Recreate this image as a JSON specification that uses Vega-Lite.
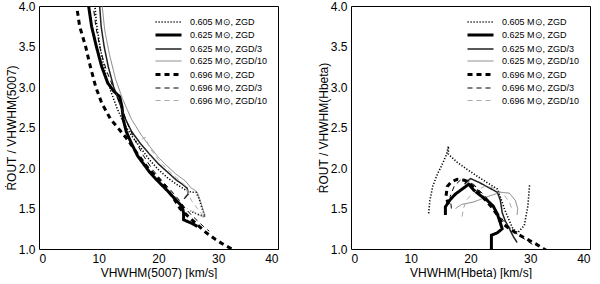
{
"$schema": "https://vega.github.io/schema/vega-lite/v6.json",
"padding": {"left": 4, "top": -1, "right": 3, "bottom": 0},
"config": {
 "view": {"stroke": "black", "strokeWidth": 1},
 "font": "Liberation Sans",
 "axis": {"labelFont": "Liberation Sans", "labelFontSize": 12, "titleFont": "Liberation Sans", "titleFontSize": 12, "titleFontWeight": "normal", "labelColor": "black", "titleColor": "black", "grid": false, "domain": false, "ticks": false},
 "legend": {"orient": "top-right", "offset": 10, "padding": 0, "labelFont": "Liberation Sans", "labelFontSize": 9, "labelColor": "black", "symbolType": "M-2.6,0H2.6", "symbolSize": 100, "labelOffset": 15, "rowPadding": 1.5, "title": null, "symbolFillColor": "transparent"}
},
"datasets": {
 "left": [
  {"s":"0.605 M⊙, ZGD","i":0,"v":9.3,"r":4.05},{"s":"0.605 M⊙, ZGD","i":1,"v":9.6,"r":3.8},{"s":"0.605 M⊙, ZGD","i":2,"v":10.2,"r":3.5},{"s":"0.605 M⊙, ZGD","i":3,"v":11,"r":3.2},{"s":"0.605 M⊙, ZGD","i":4,"v":12,"r":2.95},{"s":"0.605 M⊙, ZGD","i":5,"v":13,"r":2.75},{"s":"0.605 M⊙, ZGD","i":6,"v":14.2,"r":2.55},{"s":"0.605 M⊙, ZGD","i":7,"v":15.5,"r":2.4},{"s":"0.605 M⊙, ZGD","i":8,"v":17,"r":2.25},{"s":"0.605 M⊙, ZGD","i":9,"v":18.5,"r":2.1},{"s":"0.605 M⊙, ZGD","i":10,"v":20,"r":1.98},{"s":"0.605 M⊙, ZGD","i":11,"v":21.5,"r":1.88},{"s":"0.605 M⊙, ZGD","i":12,"v":23,"r":1.8},{"s":"0.605 M⊙, ZGD","i":13,"v":24.5,"r":1.73},{"s":"0.605 M⊙, ZGD","i":14,"v":25.5,"r":1.7},{"s":"0.605 M⊙, ZGD","i":15,"v":26.3,"r":1.7},{"s":"0.605 M⊙, ZGD","i":16,"v":26.8,"r":1.62},{"s":"0.605 M⊙, ZGD","i":17,"v":27.3,"r":1.5},{"s":"0.605 M⊙, ZGD","i":18,"v":27.8,"r":1.4},{"s":"0.605 M⊙, ZGD","i":19,"v":26.5,"r":1.43},{"s":"0.605 M⊙, ZGD","i":20,"v":25.3,"r":1.47},
  {"s":"0.625 M⊙, ZGD","i":0,"v":8.2,"r":4.05},{"s":"0.625 M⊙, ZGD","i":1,"v":8.8,"r":3.75},{"s":"0.625 M⊙, ZGD","i":2,"v":9.6,"r":3.5},{"s":"0.625 M⊙, ZGD","i":3,"v":10.5,"r":3.25},{"s":"0.625 M⊙, ZGD","i":4,"v":11.5,"r":3.05},{"s":"0.625 M⊙, ZGD","i":5,"v":12.5,"r":2.95},{"s":"0.625 M⊙, ZGD","i":6,"v":13.5,"r":2.88},{"s":"0.625 M⊙, ZGD","i":7,"v":13.9,"r":2.75},{"s":"0.625 M⊙, ZGD","i":8,"v":14.1,"r":2.6},{"s":"0.625 M⊙, ZGD","i":9,"v":14.6,"r":2.45},{"s":"0.625 M⊙, ZGD","i":10,"v":15.5,"r":2.3},{"s":"0.625 M⊙, ZGD","i":11,"v":16.5,"r":2.15},{"s":"0.625 M⊙, ZGD","i":12,"v":17.5,"r":2.05},{"s":"0.625 M⊙, ZGD","i":13,"v":18.5,"r":1.95},{"s":"0.625 M⊙, ZGD","i":14,"v":20,"r":1.83},{"s":"0.625 M⊙, ZGD","i":15,"v":21.5,"r":1.72},{"s":"0.625 M⊙, ZGD","i":16,"v":23,"r":1.6},{"s":"0.625 M⊙, ZGD","i":17,"v":24,"r":1.52},{"s":"0.625 M⊙, ZGD","i":18,"v":24.2,"r":1.44},{"s":"0.625 M⊙, ZGD","i":19,"v":24.2,"r":1.36},{"s":"0.625 M⊙, ZGD","i":20,"v":25.5,"r":1.32},{"s":"0.625 M⊙, ZGD","i":21,"v":26.5,"r":1.28},
  {"s":"0.625 M⊙, ZGD/3","i":0,"v":10.1,"r":4.05},{"s":"0.625 M⊙, ZGD/3","i":1,"v":10.4,"r":3.75},{"s":"0.625 M⊙, ZGD/3","i":2,"v":10.9,"r":3.5},{"s":"0.625 M⊙, ZGD/3","i":3,"v":11.6,"r":3.25},{"s":"0.625 M⊙, ZGD/3","i":4,"v":12.5,"r":3.0},{"s":"0.625 M⊙, ZGD/3","i":5,"v":13.5,"r":2.8},{"s":"0.625 M⊙, ZGD/3","i":6,"v":14.5,"r":2.6},{"s":"0.625 M⊙, ZGD/3","i":7,"v":15.5,"r":2.45},{"s":"0.625 M⊙, ZGD/3","i":8,"v":17,"r":2.3},{"s":"0.625 M⊙, ZGD/3","i":9,"v":18.5,"r":2.17},{"s":"0.625 M⊙, ZGD/3","i":10,"v":20,"r":2.05},{"s":"0.625 M⊙, ZGD/3","i":11,"v":21.5,"r":1.95},{"s":"0.625 M⊙, ZGD/3","i":12,"v":23,"r":1.85},{"s":"0.625 M⊙, ZGD/3","i":13,"v":24,"r":1.8},{"s":"0.625 M⊙, ZGD/3","i":14,"v":24.8,"r":1.75},{"s":"0.625 M⊙, ZGD/3","i":15,"v":25,"r":1.68},{"s":"0.625 M⊙, ZGD/3","i":16,"v":24.3,"r":1.62},
  {"s":"0.625 M⊙, ZGD/10","i":0,"v":10.5,"r":4.05},{"s":"0.625 M⊙, ZGD/10","i":1,"v":11,"r":3.7},{"s":"0.625 M⊙, ZGD/10","i":2,"v":11.8,"r":3.4},{"s":"0.625 M⊙, ZGD/10","i":3,"v":12.8,"r":3.1},{"s":"0.625 M⊙, ZGD/10","i":4,"v":14,"r":2.85},{"s":"0.625 M⊙, ZGD/10","i":5,"v":15.5,"r":2.6},{"s":"0.625 M⊙, ZGD/10","i":6,"v":17,"r":2.42},{"s":"0.625 M⊙, ZGD/10","i":7,"v":18.5,"r":2.27},{"s":"0.625 M⊙, ZGD/10","i":8,"v":20,"r":2.13},{"s":"0.625 M⊙, ZGD/10","i":9,"v":21.5,"r":2.02},{"s":"0.625 M⊙, ZGD/10","i":10,"v":23,"r":1.92},{"s":"0.625 M⊙, ZGD/10","i":11,"v":24.5,"r":1.84},{"s":"0.625 M⊙, ZGD/10","i":12,"v":25.5,"r":1.75},{"s":"0.625 M⊙, ZGD/10","i":13,"v":26,"r":1.73},{"s":"0.625 M⊙, ZGD/10","i":14,"v":26.5,"r":1.7},{"s":"0.625 M⊙, ZGD/10","i":15,"v":27.2,"r":1.55},{"s":"0.625 M⊙, ZGD/10","i":16,"v":27.8,"r":1.4},
  {"s":"0.696 M⊙, ZGD","i":0,"v":6.2,"r":4.05},{"s":"0.696 M⊙, ZGD","i":1,"v":6.8,"r":3.75},{"s":"0.696 M⊙, ZGD","i":2,"v":7.8,"r":3.5},{"s":"0.696 M⊙, ZGD","i":3,"v":8.6,"r":3.25},{"s":"0.696 M⊙, ZGD","i":4,"v":9.5,"r":3.0},{"s":"0.696 M⊙, ZGD","i":5,"v":10.5,"r":2.8},{"s":"0.696 M⊙, ZGD","i":6,"v":12,"r":2.6},{"s":"0.696 M⊙, ZGD","i":7,"v":13.5,"r":2.47},{"s":"0.696 M⊙, ZGD","i":8,"v":14.5,"r":2.38},{"s":"0.696 M⊙, ZGD","i":9,"v":15.5,"r":2.28},{"s":"0.696 M⊙, ZGD","i":10,"v":16.5,"r":2.17},{"s":"0.696 M⊙, ZGD","i":11,"v":18,"r":2.02},{"s":"0.696 M⊙, ZGD","i":12,"v":19.5,"r":1.9},{"s":"0.696 M⊙, ZGD","i":13,"v":21,"r":1.78},{"s":"0.696 M⊙, ZGD","i":14,"v":22.5,"r":1.63},{"s":"0.696 M⊙, ZGD","i":15,"v":23.6,"r":1.5},{"s":"0.696 M⊙, ZGD","i":16,"v":25,"r":1.4},{"s":"0.696 M⊙, ZGD","i":17,"v":26.5,"r":1.3},{"s":"0.696 M⊙, ZGD","i":18,"v":28,"r":1.2},{"s":"0.696 M⊙, ZGD","i":19,"v":29.5,"r":1.12},{"s":"0.696 M⊙, ZGD","i":20,"v":31,"r":1.05},{"s":"0.696 M⊙, ZGD","i":21,"v":32.3,"r":1.0},{"s":"0.696 M⊙, ZGD","i":22,"v":33,"r":0.97},
  {"s":"0.696 M⊙, ZGD/3","i":0,"v":9.0,"r":4.05},{"s":"0.696 M⊙, ZGD/3","i":1,"v":9.5,"r":3.75},{"s":"0.696 M⊙, ZGD/3","i":2,"v":10.3,"r":3.45},{"s":"0.696 M⊙, ZGD/3","i":3,"v":11.3,"r":3.2},{"s":"0.696 M⊙, ZGD/3","i":4,"v":12.4,"r":3.0},{"s":"0.696 M⊙, ZGD/3","i":5,"v":13.5,"r":2.8},{"s":"0.696 M⊙, ZGD/3","i":6,"v":14.8,"r":2.55},{"s":"0.696 M⊙, ZGD/3","i":7,"v":16,"r":2.35},{"s":"0.696 M⊙, ZGD/3","i":8,"v":17.5,"r":2.15},{"s":"0.696 M⊙, ZGD/3","i":9,"v":19,"r":1.98},{"s":"0.696 M⊙, ZGD/3","i":10,"v":20.5,"r":1.85},{"s":"0.696 M⊙, ZGD/3","i":11,"v":22,"r":1.73},{"s":"0.696 M⊙, ZGD/3","i":12,"v":23.5,"r":1.6},{"s":"0.696 M⊙, ZGD/3","i":13,"v":24.5,"r":1.5},{"s":"0.696 M⊙, ZGD/3","i":14,"v":25.5,"r":1.42},{"s":"0.696 M⊙, ZGD/3","i":15,"v":26.5,"r":1.35},{"s":"0.696 M⊙, ZGD/3","i":16,"v":27.5,"r":1.28},{"s":"0.696 M⊙, ZGD/3","i":17,"v":28.5,"r":1.22},
  {"s":"0.696 M⊙, ZGD/10","i":0,"v":17.2,"r":2.35},{"s":"0.696 M⊙, ZGD/10","i":1,"v":17.8,"r":2.38},{"s":"0.696 M⊙, ZGD/10","i":2,"v":18.5,"r":2.25},{"s":"0.696 M⊙, ZGD/10","i":3,"v":20,"r":2.1},{"s":"0.696 M⊙, ZGD/10","i":4,"v":21.5,"r":1.98},{"s":"0.696 M⊙, ZGD/10","i":5,"v":23,"r":1.88},{"s":"0.696 M⊙, ZGD/10","i":6,"v":24.5,"r":1.78},{"s":"0.696 M⊙, ZGD/10","i":7,"v":25.5,"r":1.6},{"s":"0.696 M⊙, ZGD/10","i":8,"v":26.5,"r":1.5},{"s":"0.696 M⊙, ZGD/10","i":9,"v":27.8,"r":1.38},{"s":"0.696 M⊙, ZGD/10","i":10,"v":26,"r":1.45},{"s":"0.696 M⊙, ZGD/10","i":11,"v":24.8,"r":1.5}
 ],
 "right": [
  {"s":"0.605 M⊙, ZGD","i":0,"v":13.0,"r":1.44},{"s":"0.605 M⊙, ZGD","i":1,"v":13.2,"r":1.6},{"s":"0.605 M⊙, ZGD","i":2,"v":13.7,"r":1.78},{"s":"0.605 M⊙, ZGD","i":3,"v":14.5,"r":1.93},{"s":"0.605 M⊙, ZGD","i":4,"v":15.3,"r":2.05},{"s":"0.605 M⊙, ZGD","i":5,"v":16.0,"r":2.17},{"s":"0.605 M⊙, ZGD","i":6,"v":16.3,"r":2.27},{"s":"0.605 M⊙, ZGD","i":7,"v":16.3,"r":2.17},{"s":"0.605 M⊙, ZGD","i":8,"v":17.8,"r":2.07},{"s":"0.605 M⊙, ZGD","i":9,"v":19.5,"r":1.98},{"s":"0.605 M⊙, ZGD","i":10,"v":21.5,"r":1.88},{"s":"0.605 M⊙, ZGD","i":11,"v":23.2,"r":1.8},{"s":"0.605 M⊙, ZGD","i":12,"v":24.5,"r":1.74},{"s":"0.605 M⊙, ZGD","i":13,"v":25.2,"r":1.6},{"s":"0.605 M⊙, ZGD","i":14,"v":25.7,"r":1.49},{"s":"0.605 M⊙, ZGD","i":15,"v":26.5,"r":1.35},{"s":"0.605 M⊙, ZGD","i":16,"v":27.1,"r":1.25},{"s":"0.605 M⊙, ZGD","i":17,"v":27.9,"r":1.2},{"s":"0.605 M⊙, ZGD","i":18,"v":29.0,"r":1.29},{"s":"0.605 M⊙, ZGD","i":19,"v":29.6,"r":1.53},{"s":"0.605 M⊙, ZGD","i":20,"v":29.9,"r":1.8},
  {"s":"0.625 M⊙, ZGD","i":0,"v":15.8,"r":1.42},{"s":"0.625 M⊙, ZGD","i":1,"v":15.8,"r":1.52},{"s":"0.625 M⊙, ZGD","i":2,"v":16.5,"r":1.6},{"s":"0.625 M⊙, ZGD","i":3,"v":17.5,"r":1.68},{"s":"0.625 M⊙, ZGD","i":4,"v":18.8,"r":1.75},{"s":"0.625 M⊙, ZGD","i":5,"v":19.7,"r":1.8},{"s":"0.625 M⊙, ZGD","i":6,"v":20.5,"r":1.73},{"s":"0.625 M⊙, ZGD","i":7,"v":21.5,"r":1.67},{"s":"0.625 M⊙, ZGD","i":8,"v":22.8,"r":1.6},{"s":"0.625 M⊙, ZGD","i":9,"v":23.8,"r":1.53},{"s":"0.625 M⊙, ZGD","i":10,"v":24.5,"r":1.43},{"s":"0.625 M⊙, ZGD","i":11,"v":25,"r":1.32},{"s":"0.625 M⊙, ZGD","i":12,"v":25.3,"r":1.25},{"s":"0.625 M⊙, ZGD","i":13,"v":24.5,"r":1.2},{"s":"0.625 M⊙, ZGD","i":14,"v":23.5,"r":1.17},{"s":"0.625 M⊙, ZGD","i":15,"v":23.5,"r":1.0},{"s":"0.625 M⊙, ZGD","i":16,"v":23.5,"r":0.9},
  {"s":"0.625 M⊙, ZGD/3","i":0,"v":19.0,"r":1.8},{"s":"0.625 M⊙, ZGD/3","i":1,"v":20,"r":1.87},{"s":"0.625 M⊙, ZGD/3","i":2,"v":21.5,"r":1.82},{"s":"0.625 M⊙, ZGD/3","i":3,"v":23,"r":1.76},{"s":"0.625 M⊙, ZGD/3","i":4,"v":24.5,"r":1.7},{"s":"0.625 M⊙, ZGD/3","i":5,"v":25,"r":1.6},{"s":"0.625 M⊙, ZGD/3","i":6,"v":25.3,"r":1.45},{"s":"0.625 M⊙, ZGD/3","i":7,"v":25.8,"r":1.35},{"s":"0.625 M⊙, ZGD/3","i":8,"v":26.5,"r":1.25},{"s":"0.625 M⊙, ZGD/3","i":9,"v":27.2,"r":1.15},{"s":"0.625 M⊙, ZGD/3","i":10,"v":27.8,"r":1.08},
  {"s":"0.625 M⊙, ZGD/10","i":0,"v":17.5,"r":1.5},{"s":"0.625 M⊙, ZGD/10","i":1,"v":18.5,"r":1.55},{"s":"0.625 M⊙, ZGD/10","i":2,"v":20.5,"r":1.58},{"s":"0.625 M⊙, ZGD/10","i":3,"v":23,"r":1.65},{"s":"0.625 M⊙, ZGD/10","i":4,"v":25,"r":1.7},{"s":"0.625 M⊙, ZGD/10","i":5,"v":26.5,"r":1.69},{"s":"0.625 M⊙, ZGD/10","i":6,"v":27.5,"r":1.6},{"s":"0.625 M⊙, ZGD/10","i":7,"v":27.9,"r":1.5},{"s":"0.625 M⊙, ZGD/10","i":8,"v":27.8,"r":1.42},
  {"s":"0.696 M⊙, ZGD","i":0,"v":16.3,"r":1.55},{"s":"0.696 M⊙, ZGD","i":1,"v":15.9,"r":1.65},{"s":"0.696 M⊙, ZGD","i":2,"v":16.1,"r":1.77},{"s":"0.696 M⊙, ZGD","i":3,"v":16.8,"r":1.83},{"s":"0.696 M⊙, ZGD","i":4,"v":17.8,"r":1.86},{"s":"0.696 M⊙, ZGD","i":5,"v":19,"r":1.85},{"s":"0.696 M⊙, ZGD","i":6,"v":20,"r":1.8},{"s":"0.696 M⊙, ZGD","i":7,"v":21,"r":1.73},{"s":"0.696 M⊙, ZGD","i":8,"v":22.3,"r":1.62},{"s":"0.696 M⊙, ZGD","i":9,"v":23.5,"r":1.52},{"s":"0.696 M⊙, ZGD","i":10,"v":24.5,"r":1.42},{"s":"0.696 M⊙, ZGD","i":11,"v":25.3,"r":1.32},{"s":"0.696 M⊙, ZGD","i":12,"v":26.5,"r":1.25},{"s":"0.696 M⊙, ZGD","i":13,"v":28,"r":1.18},{"s":"0.696 M⊙, ZGD","i":14,"v":29.5,"r":1.12},{"s":"0.696 M⊙, ZGD","i":15,"v":31,"r":1.06},{"s":"0.696 M⊙, ZGD","i":16,"v":32.3,"r":1.0},{"s":"0.696 M⊙, ZGD","i":17,"v":33,"r":0.97},
  {"s":"0.696 M⊙, ZGD/3","i":0,"v":16.8,"r":1.5},{"s":"0.696 M⊙, ZGD/3","i":1,"v":16.6,"r":1.65},{"s":"0.696 M⊙, ZGD/3","i":2,"v":17.3,"r":1.78},{"s":"0.696 M⊙, ZGD/3","i":3,"v":18.3,"r":1.85},{"s":"0.696 M⊙, ZGD/3","i":4,"v":19.5,"r":1.85},{"s":"0.696 M⊙, ZGD/3","i":5,"v":20.5,"r":1.8},{"s":"0.696 M⊙, ZGD/3","i":6,"v":21.5,"r":1.72},{"s":"0.696 M⊙, ZGD/3","i":7,"v":22.5,"r":1.65},{"s":"0.696 M⊙, ZGD/3","i":8,"v":23.5,"r":1.55},{"s":"0.696 M⊙, ZGD/3","i":9,"v":24.5,"r":1.45},{"s":"0.696 M⊙, ZGD/3","i":10,"v":25.5,"r":1.35},{"s":"0.696 M⊙, ZGD/3","i":11,"v":26.5,"r":1.27},{"s":"0.696 M⊙, ZGD/3","i":12,"v":27.5,"r":1.2},{"s":"0.696 M⊙, ZGD/3","i":13,"v":28.5,"r":1.15},{"s":"0.696 M⊙, ZGD/3","i":14,"v":29.5,"r":1.1},{"s":"0.696 M⊙, ZGD/3","i":15,"v":30.5,"r":1.05},
  {"s":"0.696 M⊙, ZGD/10","i":0,"v":18.6,"r":1.4},{"s":"0.696 M⊙, ZGD/10","i":1,"v":18.8,"r":1.5},{"s":"0.696 M⊙, ZGD/10","i":2,"v":19.5,"r":1.62},{"s":"0.696 M⊙, ZGD/10","i":3,"v":21,"r":1.72},{"s":"0.696 M⊙, ZGD/10","i":4,"v":22.5,"r":1.78},{"s":"0.696 M⊙, ZGD/10","i":5,"v":24,"r":1.75},{"s":"0.696 M⊙, ZGD/10","i":6,"v":25.5,"r":1.68},{"s":"0.696 M⊙, ZGD/10","i":7,"v":26.5,"r":1.58},{"s":"0.696 M⊙, ZGD/10","i":8,"v":27,"r":1.48}
 ]
},
"spacing": 37,
"resolve": {"scale": {"color": "independent", "strokeDash": "independent", "strokeWidth": "independent"}, "legend": {"color": "independent", "strokeDash": "independent", "strokeWidth": "independent"}},
"hconcat": [
 {
  "width": 239, "height": 243,
  "data": {"name": "left"},
  "mark": {"type": "line", "clip": true},
  "encoding": {
   "x": {"field": "v", "type": "quantitative", "scale": {"domain": [0, 40], "nice": false, "zero": false}, "axis": {"orient": "bottom", "values": [0, 10, 20, 30, 40], "title": "VHWHM(5007) [km/s]", "labelPadding": 4, "titlePadding": 3}},
   "y": {"field": "r", "type": "quantitative", "scale": {"domain": [1, 4], "nice": false, "zero": false}, "axis": {"orient": "left", "values": [1, 1.5, 2, 2.5, 3, 3.5, 4], "format": ".1f", "title": "ṘOUT / VHWHM(5007)", "labelPadding": 4, "titlePadding": 0}},
   "color": {"field": "s", "type": "nominal", "scale": {"domain": ["0.605 M⊙, ZGD","0.625 M⊙, ZGD","0.625 M⊙, ZGD/3","0.625 M⊙, ZGD/10","0.696 M⊙, ZGD","0.696 M⊙, ZGD/3","0.696 M⊙, ZGD/10"], "range": ["#000000","#000000","#222222","#666666","#000000","#000000","#aaaaaa"]}, "legend": {"title": null}},
   "strokeDash": {"field": "s", "type": "nominal", "scale": {"domain": ["0.605 M⊙, ZGD","0.625 M⊙, ZGD","0.625 M⊙, ZGD/3","0.625 M⊙, ZGD/10","0.696 M⊙, ZGD","0.696 M⊙, ZGD/3","0.696 M⊙, ZGD/10"], "range": [[1.2, 1.8], [1, 0], [1, 0], [1, 0], [5, 4], [5, 4], [5, 4]]}, "legend": {"title": null}},
   "strokeWidth": {"field": "s", "type": "nominal", "scale": {"type": "ordinal", "domain": ["0.605 M⊙, ZGD","0.625 M⊙, ZGD","0.625 M⊙, ZGD/3","0.625 M⊙, ZGD/10","0.696 M⊙, ZGD","0.696 M⊙, ZGD/3","0.696 M⊙, ZGD/10"], "range": [1.6, 3, 1.5, 0.8, 3, 1, 1]}, "legend": {"title": null}},
   "order": {"field": "i", "type": "quantitative"}
  }
 },
 {
  "width": 239, "height": 243,
  "data": {"name": "right"},
  "mark": {"type": "line", "clip": true},
  "encoding": {
   "x": {"field": "v", "type": "quantitative", "scale": {"domain": [0, 40], "nice": false, "zero": false}, "axis": {"orient": "bottom", "values": [0, 10, 20, 30, 40], "title": "VHWHM(Hbeta) [km/s]", "labelPadding": 4, "titlePadding": 3}},
   "y": {"field": "r", "type": "quantitative", "scale": {"domain": [1, 4], "nice": false, "zero": false}, "axis": {"orient": "left", "values": [1, 1.5, 2, 2.5, 3, 3.5, 4], "format": ".1f", "title": "ṘOUT / VHWHM(Hbeta)", "labelPadding": 4, "titlePadding": 0}},
   "color": {"field": "s", "type": "nominal", "scale": {"domain": ["0.605 M⊙, ZGD","0.625 M⊙, ZGD","0.625 M⊙, ZGD/3","0.625 M⊙, ZGD/10","0.696 M⊙, ZGD","0.696 M⊙, ZGD/3","0.696 M⊙, ZGD/10"], "range": ["#000000","#000000","#222222","#666666","#000000","#000000","#aaaaaa"]}, "legend": {"title": null}},
   "strokeDash": {"field": "s", "type": "nominal", "scale": {"domain": ["0.605 M⊙, ZGD","0.625 M⊙, ZGD","0.625 M⊙, ZGD/3","0.625 M⊙, ZGD/10","0.696 M⊙, ZGD","0.696 M⊙, ZGD/3","0.696 M⊙, ZGD/10"], "range": [[1.2, 1.8], [1, 0], [1, 0], [1, 0], [5, 4], [5, 4], [5, 4]]}, "legend": {"title": null}},
   "strokeWidth": {"field": "s", "type": "nominal", "scale": {"type": "ordinal", "domain": ["0.605 M⊙, ZGD","0.625 M⊙, ZGD","0.625 M⊙, ZGD/3","0.625 M⊙, ZGD/10","0.696 M⊙, ZGD","0.696 M⊙, ZGD/3","0.696 M⊙, ZGD/10"], "range": [1.6, 3, 1.5, 0.8, 3, 1, 1]}, "legend": {"title": null}},
   "order": {"field": "i", "type": "quantitative"}
  }
 }
]
}
